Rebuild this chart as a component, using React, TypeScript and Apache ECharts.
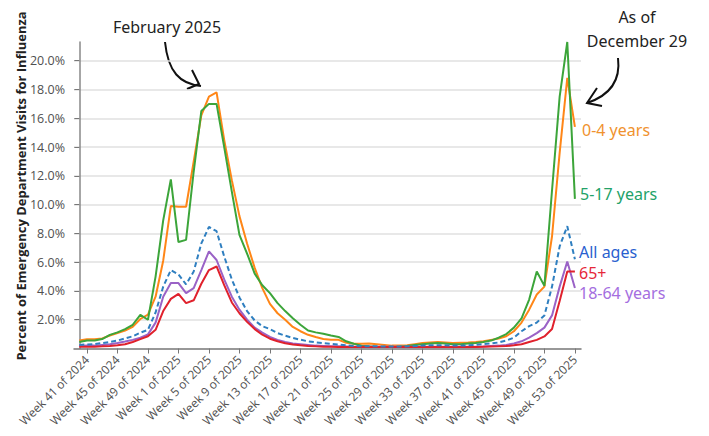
import React, { useEffect, useRef } from "react";
import * as echarts from "echarts";

// index 0 = Week 40 of 2024 ... index 65 = Week 53 of 2025
const tickPositions = [1, 5, 9, 13, 17, 21, 25, 29, 33, 37, 41, 45, 49, 53, 57, 61, 65];
const tickLabels = [
  "Week 41 of 2024", "Week 45 of 2024", "Week 49 of 2024", "Week 1 of 2025",
  "Week 5 of 2025", "Week 9 of 2025", "Week 13 of 2025", "Week 17 of 2025",
  "Week 21 of 2025", "Week 25 of 2025", "Week 29 of 2025", "Week 33 of 2025",
  "Week 37 of 2025", "Week 41 of 2025", "Week 45 of 2025", "Week 49 of 2025",
  "Week 53 of 2025",
];
const yTicks = [2, 4, 6, 8, 10, 12, 14, 16, 18, 20];

const age0to4 = [
  0.55, 0.65, 0.65, 0.7, 0.9, 1.08, 1.25, 1.5, 2.05, 2.35,
  3.6, 6.1, 9.9, 9.85, 9.85, 13.0, 16.2, 17.5, 17.8, 14.5,
  11.7, 9.2, 7.3, 5.6, 4.2, 3.1, 2.45, 2.0, 1.5, 1.2,
  0.95, 0.8, 0.66, 0.6, 0.6, 0.4, 0.33, 0.33, 0.35, 0.3,
  0.25, 0.2, 0.2, 0.22, 0.3, 0.38, 0.42, 0.45, 0.42, 0.38,
  0.4, 0.42, 0.45, 0.5, 0.6, 0.7, 0.85, 1.2, 1.8, 2.7,
  3.75, 4.3, 7.8, 13.6, 18.8, 15.4,
];
const age5to17 = [
  0.45, 0.55, 0.55, 0.66, 0.95, 1.12, 1.35, 1.65, 2.34, 2.0,
  5.0, 8.9, 11.75, 7.4, 7.55, 12.3, 16.5, 17.0, 17.0, 14.0,
  10.9, 7.9, 6.6, 5.2, 4.4, 3.85, 3.15, 2.6, 2.1, 1.65,
  1.25, 1.12, 1.03, 0.9, 0.8, 0.5, 0.33, 0.2, 0.15, 0.12,
  0.1, 0.1, 0.12, 0.18, 0.25, 0.3, 0.35, 0.38, 0.35, 0.3,
  0.3, 0.35, 0.38, 0.45, 0.55, 0.75, 1.0, 1.45, 2.1, 3.4,
  5.35, 4.35, 11.0, 17.5, 21.3, 10.4,
];
const allAges = [
  0.25, 0.28, 0.3, 0.38, 0.45, 0.55, 0.7, 0.85, 1.1, 1.3,
  2.5, 4.3, 5.45, 5.15, 4.45, 5.35, 7.3, 8.45, 8.15, 6.4,
  4.8, 3.55, 2.6, 1.95, 1.55, 1.35, 1.07, 0.89, 0.73, 0.61,
  0.5, 0.43, 0.38, 0.33, 0.28, 0.22, 0.18, 0.16, 0.15, 0.15,
  0.14, 0.14, 0.14, 0.15, 0.17, 0.2, 0.22, 0.22, 0.22, 0.2,
  0.2, 0.22, 0.25, 0.3, 0.35, 0.42, 0.55, 0.75, 1.2, 1.55,
  1.8, 2.3, 4.3, 7.1, 8.5, 6.2,
];
const age18to64 = [
  0.18, 0.2, 0.2, 0.25, 0.3, 0.38, 0.48, 0.6, 0.75, 0.98,
  1.8, 3.6, 4.55, 4.55, 3.85, 4.2, 5.45, 6.75, 6.15, 4.8,
  3.6, 2.7, 2.0, 1.45, 1.1, 0.8, 0.6, 0.45, 0.35, 0.3,
  0.25, 0.2, 0.18, 0.16, 0.15, 0.14, 0.13, 0.12, 0.12, 0.12,
  0.12, 0.12, 0.12, 0.12, 0.12, 0.12, 0.12, 0.12, 0.12, 0.12,
  0.12, 0.12, 0.12, 0.14, 0.17, 0.2, 0.25, 0.35, 0.5, 0.75,
  1.07, 1.45, 2.3, 4.3, 6.05, 4.2,
];
const age65plus = [
  0.12, 0.13, 0.13, 0.15, 0.18, 0.22, 0.3, 0.45, 0.65, 0.85,
  1.3, 2.6, 3.45, 3.8, 3.15, 3.35, 4.5, 5.45, 5.7, 4.4,
  3.2, 2.45, 1.85, 1.35, 0.96, 0.68, 0.5, 0.36, 0.28, 0.22,
  0.18, 0.15, 0.13, 0.12, 0.11, 0.1, 0.1, 0.1, 0.1, 0.1,
  0.1, 0.1, 0.1, 0.1, 0.1, 0.1, 0.1, 0.1, 0.1, 0.1,
  0.1, 0.1, 0.1, 0.12, 0.14, 0.15, 0.17, 0.22, 0.3, 0.45,
  0.6, 0.84, 1.35, 3.3, 5.35, 5.35,
];

const seriesNames = ["All ages", "0-4 years", "5-17 years", "18-64 years", "65+"];
const seriesData = [allAges, age0to4, age5to17, age18to64, age65plus];
const lineColors = ["#2f7fc0", "#ff8617", "#3ca53a", "#9a62c6", "#e0212c"];

const toPairs = (arr: number[]) => arr.map((v, i) => [i, v]);

export default function App() {
  const ref = useRef<HTMLDivElement>(null);
  useEffect(() => {
    if (!ref.current) return;
    const chart = echarts.init(ref.current, null, { renderer: "svg" });
    const annFont = '"Noto Sans", sans-serif';
    chart.setOption({
      animation: false,
      grid: { left: 74, right: 128, top: 42, bottom: 87.5, containLabel: false },
      xAxis: {
        type: "value",
        min: -0.7,
        max: 65.8,
        axisLine: { show: true, lineStyle: { color: "#777", width: 1.5 } },
        axisTick: { show: true, customValues: tickPositions, length: 5, lineStyle: { color: "#777" } },
        axisLabel: {
          customValues: tickPositions,
          rotate: 45,
          margin: 9,
          color: "#505050",
          fontSize: 12,
          fontFamily: '"Open Sans", sans-serif',
          formatter: (v: number) => tickLabels[tickPositions.indexOf(Math.round(v))] ?? "",
        },
        splitLine: { show: false },
      },
      yAxis: {
        type: "value",
        min: 0,
        max: 21.3,
        axisLine: { show: true, lineStyle: { color: "#888", width: 1.5 } },
        axisTick: { show: true, customValues: yTicks, length: 5, lineStyle: { color: "#777" } },
        axisLabel: {
          customValues: yTicks,
          margin: 9,
          color: "#505050",
          fontSize: 12.5,
          fontFamily: '"Open Sans", sans-serif',
          formatter: (v: number) => v.toFixed(1) + "%",
        },
        splitLine: { show: true, lineStyle: { color: "#e0e0e0", width: 1.5 } },
      },
      series: seriesNames.map((name, k) => ({
        name,
        type: "line",
        data: toPairs(seriesData[k]),
        showSymbol: false,
        symbol: "none",
        lineStyle: {
          color: lineColors[k],
          width: 2,
          type: k === 0 ? [5, 3] : "solid",
        },
        z: k === 0 ? 3 : 2,
      })),
      graphic: [
        {
          type: "text",
          x: 21,
          y: 186,
          rotation: Math.PI / 2,
          style: {
            text: "Percent of Emergency Department Visits for Influenza",
            font: 'bold 13px "Open Sans", sans-serif',
            fill: "#222",
            align: "center",
            verticalAlign: "middle",
          },
        },
        {
          type: "text",
          x: 167,
          y: 27,
          style: { text: "February 2025", font: `16px ${annFont}`, fill: "#222", align: "center", verticalAlign: "middle" },
        },
        {
          type: "bezierCurve",
          shape: { x1: 165, y1: 42, cpx1: 168, cpy1: 72, cpx2: 180, cpy2: 84, x2: 201, y2: 86 },
          style: { stroke: "#111", lineWidth: 2, fill: null },
        },
        {
          type: "polyline",
          shape: { points: [[192, 70], [199, 84], [187, 89]] },
          style: { stroke: "#111", lineWidth: 2, fill: null },
        },
        {
          type: "text",
          x: 637,
          y: 17,
          style: { text: "As of", font: `16px ${annFont}`, fill: "#222", align: "center", verticalAlign: "middle" },
        },
        {
          type: "text",
          x: 637,
          y: 41,
          style: { text: "December 29", font: `16px ${annFont}`, fill: "#222", align: "center", verticalAlign: "middle" },
        },
        {
          type: "bezierCurve",
          shape: { x1: 618, y1: 58, cpx1: 621, cpy1: 82, cpx2: 608, cpy2: 96, x2: 587, y2: 103 },
          style: { stroke: "#111", lineWidth: 2, fill: null },
        },
        {
          type: "polyline",
          shape: { points: [[597, 88], [587, 103], [602, 106]] },
          style: { stroke: "#111", lineWidth: 2, fill: null },
        },
        {
          type: "text", x: 582, y: 130,
          style: { text: "0-4 years", font: `16px ${annFont}`, fill: "#f0922e", verticalAlign: "middle" },
        },
        {
          type: "text", x: 580, y: 194,
          style: { text: "5-17 years", font: `16px ${annFont}`, fill: "#23a268", verticalAlign: "middle" },
        },
        {
          type: "text", x: 579, y: 252,
          style: { text: "All ages", font: `16px ${annFont}`, fill: "#2a5fcf", verticalAlign: "middle" },
        },
        {
          type: "text", x: 579, y: 273,
          style: { text: "65+", font: `16px ${annFont}`, fill: "#e6283a", verticalAlign: "middle" },
        },
        {
          type: "text", x: 579, y: 293,
          style: { text: "18-64 years", font: `16px ${annFont}`, fill: "#a46ee0", verticalAlign: "middle" },
        },
      ],
    });
    return () => chart.dispose();
  }, []);
  return (
    <div
      ref={ref}
      style={{ position: "absolute", left: 0, top: 0, width: 709, height: 436 }}
    />
  );
}
